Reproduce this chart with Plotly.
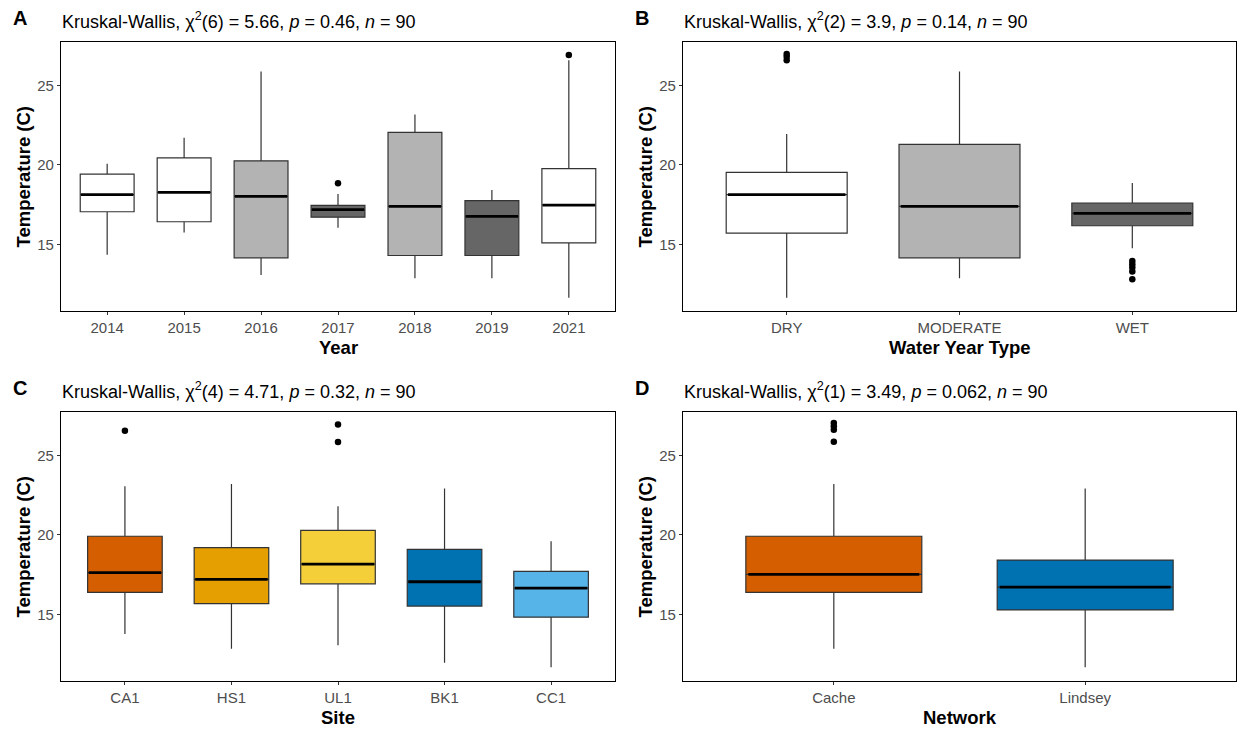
import plotly.graph_objects as go

# ---------------- data ----------------
year_cats = ["2014", "2015", "2016", "2017", "2018", "2019", "2021"]
year_low = [14.35, 15.76, 13.09, 16.05, 12.88, 12.88, 11.66]
year_q1 = [17.06, 16.43, 14.16, 16.72, 14.31, 14.31, 15.10]
year_med = [18.13, 18.28, 18.03, 17.19, 17.40, 16.77, 17.48]
year_q3 = [19.42, 20.45, 20.26, 17.46, 22.05, 17.76, 19.77]
year_high = [20.07, 21.71, 25.87, 18.18, 23.18, 18.43, 26.59]
year_fill = ["#FFFFFF", "#FFFFFF", "#B3B3B3", "#666666", "#B3B3B3", "#666666", "#FFFFFF"]
year_out_cat = ["2017", "2021"]
year_out_val = [18.85, 26.92]

wyt_cats = ["DRY", "MODERATE", "WET"]
wyt_low = [11.66, 12.88, 14.77]
wyt_q1 = [15.72, 14.16, 16.18]
wyt_med = [18.13, 17.40, 16.96]
wyt_q3 = [19.54, 21.29, 17.61]
wyt_high = [21.94, 25.87, 18.87]
wyt_fill = ["#FFFFFF", "#B3B3B3", "#666666"]
wyt_out_cat = ["DRY", "DRY", "DRY", "WET", "WET", "WET", "WET", "WET"]
wyt_out_val = [26.97, 26.80, 26.59, 13.97, 13.76, 13.55, 13.30, 12.81]

site_cats = ["CA1", "HS1", "UL1", "BK1", "CC1"]
site_low = [13.78, 12.84, 13.07, 11.97, 11.68]
site_q1 = [16.39, 15.69, 16.93, 15.53, 14.83]
site_med = [17.63, 17.21, 18.17, 17.06, 16.66]
site_q3 = [19.92, 19.20, 20.29, 19.10, 17.71]
site_high = [23.07, 23.21, 21.81, 22.92, 19.60]
site_fill = ["#D55E00", "#E69F00", "#F5CF3A", "#0072B2", "#56B4E9"]
site_out_cat = ["CA1", "UL1", "UL1"]
site_out_val = [26.55, 26.95, 25.84]

net_cats = ["Cache", "Lindsey"]
net_low = [12.84, 11.68]
net_q1 = [16.39, 15.29]
net_med = [17.52, 16.72]
net_q3 = [19.92, 18.42]
net_high = [23.21, 22.92]
net_fill = ["#D55E00", "#0072B2"]
net_out_cat = ["Cache", "Cache", "Cache", "Cache"]
net_out_val = [27.04, 26.83, 26.62, 25.86]

y_ticks = [15, 20, 25]
y_range = [10.82, 27.73]
box_w = 0.7

panels = [
    dict(letter="A", cats=year_cats, low=year_low, q1=year_q1, med=year_med, q3=year_q3,
         high=year_high, fill=year_fill, oc=year_out_cat, ov=year_out_val, xtitle="Year",
         sub="Kruskal-Wallis, χ<sup>2</sup>(6) = 5.66, <i>p</i> = 0.46, <i>n</i> = 90"),
    dict(letter="B", cats=wyt_cats, low=wyt_low, q1=wyt_q1, med=wyt_med, q3=wyt_q3,
         high=wyt_high, fill=wyt_fill, oc=wyt_out_cat, ov=wyt_out_val, xtitle="Water Year Type",
         sub="Kruskal-Wallis, χ<sup>2</sup>(2) = 3.9, <i>p</i> = 0.14, <i>n</i> = 90"),
    dict(letter="C", cats=site_cats, low=site_low, q1=site_q1, med=site_med, q3=site_q3,
         high=site_high, fill=site_fill, oc=site_out_cat, ov=site_out_val, xtitle="Site",
         sub="Kruskal-Wallis, χ<sup>2</sup>(4) = 4.71, <i>p</i> = 0.32, <i>n</i> = 90"),
    dict(letter="D", cats=net_cats, low=net_low, q1=net_q1, med=net_med, q3=net_q3,
         high=net_high, fill=net_fill, oc=net_out_cat, ov=net_out_val, xtitle="Network",
         sub="Kruskal-Wallis, χ<sup>2</sup>(1) = 3.49, <i>p</i> = 0.062, <i>n</i> = 90"),
]

W, H = 1241, 730
# plot areas in pixels (left, right, top, bottom)
areas = [(61, 615, 42, 311), (683, 1236, 42, 311), (61, 615, 412, 681), (683, 1236, 412, 681)]

FONT = "Liberation Sans, Arial, sans-serif"
fig = go.Figure()
annotations = []
layout = {}

for k, (p, (l, r, t, b)) in enumerate(zip(panels, areas)):
    ax = "" if k == 0 else str(k + 1)
    xa, ya = "x" + ax, "y" + ax
    n = len(p["cats"])
    pos = list(range(1, n + 1))
    for i in range(n):
        fig.add_trace(go.Box(
            x=[pos[i]], q1=[p["q1"][i]], median=[p["med"][i]], q3=[p["q3"][i]],
            lowerfence=[p["low"][i]], upperfence=[p["high"][i]],
            width=box_w, fillcolor=p["fill"][i], line=dict(color="#333333", width=1.2),
            whiskerwidth=0, boxpoints=False, showlegend=False, hoverinfo="skip",
            xaxis=xa, yaxis=ya))
        fig.add_trace(go.Scatter(
            x=[pos[i] - box_w / 2 + 0.01, pos[i] + box_w / 2 - 0.01],
            y=[p["med"][i], p["med"][i]], mode="lines",
            line=dict(color="black", width=2.8), showlegend=False, hoverinfo="skip",
            xaxis=xa, yaxis=ya))
    ox = [pos[p["cats"].index(c)] for c in p["oc"]]
    fig.add_trace(go.Scatter(
        x=ox, y=p["ov"], mode="markers", marker=dict(color="black", size=6.5),
        showlegend=False, hoverinfo="skip", xaxis=xa, yaxis=ya))

    layout["xaxis" + ax] = dict(
        domain=[l / W, r / W], anchor=ya, range=[0.4, n + 0.6],
        tickvals=pos, ticktext=p["cats"], ticks="outside", ticklen=3,
        tickcolor="#333333", tickfont=dict(family=FONT, size=15, color="#4D4D4D"),
        showline=True, linecolor="black", linewidth=1.2, mirror=True,
        showgrid=False, zeroline=False, fixedrange=True)
    layout["yaxis" + ax] = dict(
        domain=[1 - b / H, 1 - t / H], anchor=xa, range=y_range,
        tickvals=y_ticks, ticks="outside", ticklen=3, tickcolor="#333333",
        tickfont=dict(family=FONT, size=15, color="#4D4D4D"),
        showline=True, linecolor="black", linewidth=1.2, mirror=True,
        showgrid=False, zeroline=False, fixedrange=True)

    # panel letter
    annotations.append(dict(
        text="<b>" + p["letter"] + "</b>", x=(l - 41) / W, y=1 - (t - 24) / H,
        xref="paper", yref="paper", xanchor="center", yanchor="middle",
        showarrow=False, font=dict(family=FONT, size=20, color="black")))
    # subtitle
    annotations.append(dict(
        text=p["sub"], x=(l - 1) / W, y=1 - (t - 22) / H,
        xref="paper", yref="paper", xanchor="left", yanchor="middle",
        showarrow=False, font=dict(family=FONT, size=18, color="black")))
    # x title
    annotations.append(dict(
        text="<b>" + p["xtitle"] + "</b>", x=(l + r) / 2 / W, y=1 - (b + 36) / H,
        xref="paper", yref="paper", xanchor="center", yanchor="middle",
        showarrow=False, font=dict(family=FONT, size=18.5, color="black")))
    # y title
    annotations.append(dict(
        text="<b>Temperature (C)</b>", x=(l - 38) / W, y=1 - (t + b) / 2 / H,
        xref="paper", yref="paper", xanchor="center", yanchor="middle", textangle=-90,
        showarrow=False, font=dict(family=FONT, size=18.5, color="black")))

fig.update_layout(
    width=W, height=H, margin=dict(l=0, r=0, t=0, b=0),
    paper_bgcolor="white", plot_bgcolor="white",
    annotations=annotations, showlegend=False, **layout)

fig.write_html("out.html")
